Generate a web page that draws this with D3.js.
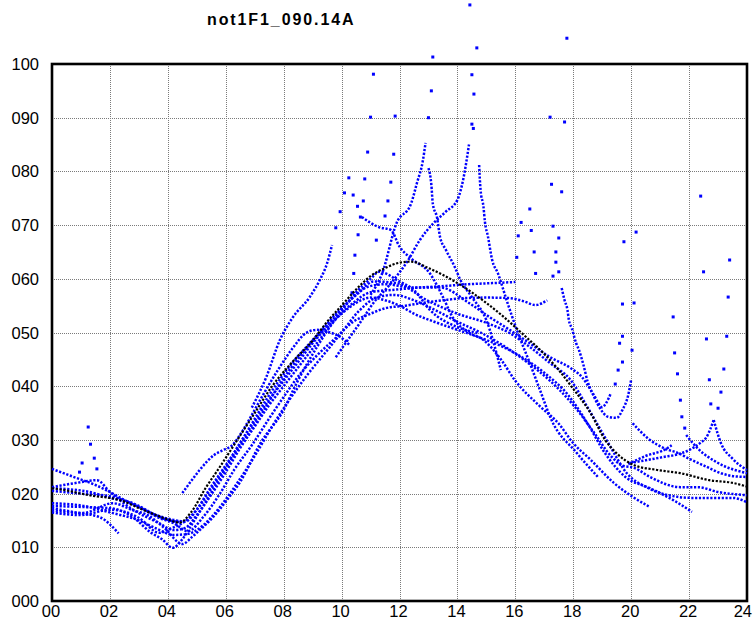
<!DOCTYPE html>
<html>
<head>
<meta charset="utf-8">
<script src="https://cdn.jsdelivr.net/npm/d3@7"></script>
<style>
  html, body { margin: 0; padding: 0; background: #ffffff; }
  svg { display: block; }
</style>
</head>
<body>
<svg id="chart" width="753" height="620"></svg>
<script>
// ---- labels ----
const chartTitle = "not1F1_090.14A";
const hourTicks = ["00","02","04","06","08","10","12","14","16","18","20","22","24"];
const valueTicks = ["000","010","020","030","040","050","060","070","080","090","100"];

// ---- mean profile (black), [hour, value] ----
const meanTrace = [[0,21],[0.5,20.6],[1,20],[1.5,19.5],[2,19.2],[2.5,18.5],[3,17.3],[3.5,16.2],[4,15.2],[4.4,14.6],[4.8,16.5],[5.3,21],[5.8,25],[6.4,30],[7,35],[7.6,40],[8.3,44.5],[9,48.5],[9.5,52],[10,55],[10.5,58],[11,60.5],[11.5,62],[12,63],[12.4,63.2],[13,62],[14,59.2],[15,55.5],[15.6,52.9],[16.3,49.5],[17,46],[17.5,43],[18,39.5],[18.6,35],[19.1,30],[19.5,27.5],[20.1,25.3],[20.9,24.4],[21.7,23.8],[22.7,22.5],[23.5,22],[24,21.3]];

// ---- daily traces (blue), [hour, value] ----
const trace01 = [[0,24.6],[0.7,23.2],[1.5,21.6],[2,20.3],[2.5,18.8],[3,17.5],[3.5,16.2],[4,15.1],[4.4,14.7]];
const trace02 = [[4.5,20.1],[4.8,22.3],[5.1,24.4],[5.6,27.2],[5.9,28.1],[6.2,28.9],[6.5,31],[6.8,33.7],[7.3,38.5],[7.8,43],[8.3,47],[8.8,50],[9.15,50.5],[9.6,50],[9.95,49.2],[10.3,47.5]];
const trace03 = [[0,21.2],[0.85,22],[1.55,22.5],[2,20.3],[2.8,17],[3.7,14.5],[4.2,13.2],[4.6,13.6],[5,16],[5.5,19.8],[6,24],[6.5,28.5],[7,32.5],[7.5,36.5],[8,40],[8.5,43.5],[9,47],[9.5,50.5],[10,54],[10.5,57.5],[11,60],[11.3,61.3],[12,59.5],[12.5,57.9],[13.05,54.2],[14,51],[14.7,49.9]];
const trace04 = [[0,17.7],[1.07,17.5],[2,17.3],[2.8,15.6],[3.4,12.8],[3.8,11.5],[4.17,9.9],[4.5,11.5],[4.8,14],[5.2,17.5],[5.7,22],[6.2,26.5],[6.7,30.5],[7.2,34.5],[7.7,39],[8.2,43],[8.7,46.5],[9.2,49.5],[9.7,52.5],[10.2,55.5],[10.7,58],[11.1,59.5],[11.9,59.2],[12.95,56],[14,53.5],[15,51.8],[15.8,49.9],[16.5,47.3],[17.2,44.3],[17.9,41.2],[18.5,36],[19.2,29.5],[19.85,23.8],[20.6,21],[21.6,19.4],[22.1,19.2],[22.8,19.2],[23.5,19.2],[24,18.4]];
const trace05 = [[0,17.3],[0.8,16.5],[1.65,15.6],[2.3,12.6]];
const trace06 = [[0,16.9],[1.07,16.4],[2.1,18.2],[2.8,16.9],[3.3,16],[3.9,13.5],[4.5,10.6],[4.83,11.9],[5.1,13.2],[5.56,15.6],[6.04,18.8],[6.5,22.2],[7.2,29.4],[8,35.6],[8.45,40.6],[9.15,47.3],[9.8,52.5],[10.4,55.5],[11,57.5],[11.9,58],[12.5,58.3],[13.4,58.6],[14.4,59],[15.2,59.2],[16,59.4]];
const trace07 = [[0,21],[0.6,20.8],[1.3,20.3],[2,19.2],[2.8,18.2],[3.6,16],[4.2,15.1],[4.6,14.8],[5,17],[5.4,20.5],[5.9,24.5],[6.4,28.5],[6.9,33],[7.4,37.5],[7.9,41.5],[8.4,45],[8.9,48],[9.4,51],[9.9,54],[10.4,56.5],[10.9,58.5],[11.5,59],[12.4,58.4],[13.4,58.4],[14.4,55.5],[15.1,52.9],[15.8,50.5],[16.5,48],[17.2,45.4],[17.9,43.4],[18.3,41.7],[18.6,39.3],[18.9,36.1],[19.2,34.3],[19.5,34.1],[19.7,35.6],[19.9,38.4],[20,41.2]];
const trace08 = [[20.05,33.1],[20.6,30.2],[21.2,28.3],[21.6,27.6],[22,26.5],[22.6,25],[23.1,23.8],[23.6,23.2],[24,23.1]];
const trace09 = [[0,20.5],[1,20],[2,19.5],[3,17.5],[3.7,15.5],[4.2,14.5],[4.7,13],[5.2,15.5],[5.8,20],[6.3,24.5],[6.9,29],[7.5,34],[8,38],[8.6,42.5],[9.2,46],[9.8,49],[10.4,52],[11,53.5],[11.5,54.5],[12.2,55],[12.8,55.5],[13.5,56],[14.2,56.4],[15,56.5],[15.8,56.4],[16.3,55.8],[16.7,55.1],[16.9,55.4],[17.1,56]];
const trace10 = [[17.6,58.3],[17.7,56],[17.8,54.2],[17.85,52.3],[17.95,50.8],[18.1,48],[18.2,46.7],[18.35,44],[18.5,40.8],[18.75,38],[19,36.1],[19.15,37],[19.3,38.7]];
const trace11 = [[19.96,25.7],[20.5,26.2],[21.1,26.8],[21.6,27.3],[22,28.1],[22.4,29.5],[22.6,30.5],[22.85,33.7]];
const trace12 = [[19.9,25.5],[20.5,27],[21.2,28.3],[21.4,29]];
const trace13 = [[21.9,30.9],[22.3,28.4],[23,25.7],[24,23.8]];
const trace14 = [[22.85,33.7],[23.1,29.4],[23.5,26.5],[24,24.4]];
const trace15 = [[0,16.5],[1,16],[2,17],[3,15.5],[3.7,12.7],[4.1,13.5],[4.5,14.5],[5,17],[5.5,21],[6,25],[6.5,29.5],[7,33.5],[7.5,37.5],[8,41],[8.5,44.5],[9,48],[9.5,51],[10,53.5],[10.5,55.5],[11,56.5],[11.5,56],[12,55],[12.5,53.5],[13.2,52],[14,50.5],[14.8,49],[15.5,47.5],[16.2,45.5],[17,42.5],[17.8,38.5],[18.5,33],[19.1,27.5],[19.8,23.1],[20.65,21],[21.45,18.8],[22.1,16.6]];
const trace16 = [[0,18.2],[1,17.8],[2,16.5],[3,15],[3.6,13.5],[4.2,12.3],[4.7,12.5],[5.2,14],[5.8,17.5],[6.4,22],[7,27],[7.6,32.5],[8.2,37.5],[8.8,42],[9.4,46],[10,50],[10.6,54],[11.2,56.5],[11.8,57],[12.5,56],[13.3,54],[14,52],[14.8,50],[15.6,47.5],[16.4,44.5],[17.2,41],[18,36.5],[18.7,31.5],[19.3,27],[19.7,25.2],[20.1,24.8],[20.65,23.1],[21.7,21.2],[22.3,21.2],[23,20.3],[24,19.7]];
const trace17 = [[6.9,36],[7.4,41.7],[7.87,48.6],[8.3,52.7],[8.9,56.6],[9.25,59.8],[9.5,62.9],[9.67,66.3]];
const trace18 = [[9.8,45.4],[10.2,48.5],[10.7,52.3],[11.1,55.5],[11.6,58.5],[12.3,63.5],[12.7,67.2],[13.2,70.5],[13.6,72.5],[14,74.7],[14.2,78.5],[14.4,85]];
const trace19 = [[14.75,81.2],[14.8,76.5],[14.9,73.4],[14.95,70.6],[15.05,68],[15.2,63.5],[15.4,61],[15.7,56],[16.05,50.5],[16.5,44.3],[16.85,39.3],[17.25,33.7],[18.1,27.7],[18.85,23.1]];
const trace20 = [[11,57],[11.4,61],[11.9,70.4],[12.4,74],[12.6,77.8],[12.8,81.8],[12.9,85.3]];
const trace21 = [[13,80.6],[13.1,77.5],[13.15,74],[13.3,71.3],[13.4,67.8],[13.6,65.4],[13.9,62.3],[14.1,59.8],[14.5,56.6],[15,52.3],[15.5,43]];
const trace22 = [[10.7,71.5],[11.3,69.6],[11.7,69.1],[12,66],[12.4,63.8],[13.05,61],[13.5,56.6],[13.85,52.7],[14.4,50],[14.9,48.6],[15.5,45],[16,41],[16.8,36.5],[17.5,33],[18,29.4],[18.6,26.3],[19.4,22],[20.05,19.4],[20.65,17.5]];

// ---- isolated readings during fast swings (blue), [hour, value] ----
const burstNight   = [[0.95,24.0],[1.04,25.7],[1.25,32.4],[1.33,29.2],[1.46,26.6],[1.55,24.6]];
const burstMorning = [[9.8,69.5],[9.95,72.5],[10.1,76],[10.25,78.8],[10.4,75.6],[10.55,73.5]];
const burstNoonA   = [[10.36,57.4],[10.42,61],[10.46,64.4],[10.57,68.2],[10.65,71.5],[10.75,74.5],[10.8,78.6],[10.9,83.6],[11.0,90.1],[11.1,98.1]];
const burstNoonB   = [[11.2,67.2],[11.5,71.7],[11.6,74.5],[11.7,78],[11.8,83.2],[11.85,90.3]];
const burstNoonC   = [[13.0,90],[13.1,95],[13.15,101.3]];
const burstAfternoon = [[14.43,111],[14.5,98],[14.57,94.4],[14.5,88.8],[14.55,88],[14.67,103]];
const burstLate    = [[16.05,64],[16.1,68],[16.2,70.5],[16.5,73],[16.55,69],[16.65,65],[16.7,61]];
const burstDusk    = [[17.2,90.1],[17.25,77.6],[17.3,69.8],[17.3,60.5],[17.4,65],[17.4,63.1],[17.5,67.6],[17.5,61.3],[17.6,76.2],[17.7,89.2],[17.78,104.8]];
const burstEveA    = [[19.45,40.4],[19.55,43],[19.6,48],[19.7,44.5],[19.7,49.3],[19.7,55.3],[19.75,66.9]];
const burstEveB    = [[20.03,46.7],[20.1,55.5],[20.17,68.7]];
const burstNightA  = [[21.45,52.9],[21.5,46.2],[21.6,42.3],[21.7,37.4],[21.75,34.3],[21.85,32.2]];
const burstNightB  = [[22.4,75.4],[22.5,61.3],[22.6,48.8],[22.7,41.2],[22.75,36.7]];
const burstNightC  = [[23,35.9],[23.1,38.9],[23.2,43.2],[23.3,49.3],[23.35,56.6],[23.4,63.5]];

const blueTraces = [trace01,trace02,trace03,trace04,trace05,trace06,trace07,trace08,trace09,trace10,
                    trace11,trace12,trace13,trace14,trace15,trace16,trace17,trace18,trace19,trace20,
                    trace21,trace22];
const bluePoints = [].concat(burstNight,burstMorning,burstNoonA,burstNoonB,burstNoonC,burstAfternoon,
                             burstLate,burstDusk,burstEveA,burstEveB,burstNightA,burstNightB,burstNightC);

// ---- drawing ----
const svg = d3.select("#chart");
const plot = { left: 52, right: 747, top: 64, bottom: 601 };

const x = d3.scaleLinear().domain([0, 24]).range([plot.left, plot.right]);
const y = d3.scaleLinear().domain([0, 100]).range([plot.bottom, plot.top]);

svg.append("rect").attr("width", 753).attr("height", 620).attr("fill", "#ffffff");

// dotted grid
const grid = svg.append("g").attr("stroke", "#7a7a7a").attr("stroke-width", 1)
  .attr("stroke-dasharray", "1,1").attr("shape-rendering", "crispEdges");
hourTicks.forEach(t => {
  const h = +t;
  if (h === 0 || h === 24) return;
  grid.append("line").attr("x1", Math.round(x(h)) + 0.5).attr("x2", Math.round(x(h)) + 0.5)
    .attr("y1", plot.top).attr("y2", plot.bottom);
});
valueTicks.forEach(t => {
  const v = +t;
  if (v === 0 || v === 100) return;
  grid.append("line").attr("y1", Math.round(y(v)) + 0.5).attr("y2", Math.round(y(v)) + 0.5)
    .attr("x1", plot.left).attr("x2", plot.right);
});

// frame
svg.append("rect")
  .attr("x", plot.left).attr("y", plot.top)
  .attr("width", plot.right - plot.left).attr("height", plot.bottom - plot.top)
  .attr("fill", "none").attr("stroke", "#000").attr("stroke-width", 2.6);

// axis labels
const labelFont = "'Liberation Sans', Arial, sans-serif";
svg.append("g").selectAll("text").data(valueTicks).join("text")
  .attr("x", 39).attr("y", d => y(+d))
  .attr("text-anchor", "end").attr("dominant-baseline", "central")
  .attr("font-family", labelFont).attr("font-size", 16.5).attr("fill", "#000")
  .text(d => d);
svg.append("g").selectAll("text").data(hourTicks).join("text")
  .attr("x", (d, i) => i === hourTicks.length - 1 ? 752 : x(+d) - 1).attr("y", 617)
  .attr("text-anchor", (d, i) => i === hourTicks.length - 1 ? "end" : "middle")
  .attr("font-family", labelFont).attr("font-size", 16.5).attr("fill", "#000")
  .text(d => d);

// title
svg.append("text")
  .attr("x", 207).attr("y", 25)
  .attr("font-family", labelFont).attr("font-weight", "bold")
  .attr("font-size", 16).attr("letter-spacing", 1.9).attr("fill", "#000")
  .text(chartTitle);

// dotted traces
const line = d3.line().x(d => x(d[0])).y(d => y(d[1])).curve(d3.curveMonotoneX);

svg.append("g").selectAll("path").data(blueTraces).join("path")
  .attr("d", line)
  .attr("fill", "none").attr("stroke", "#0000ff").attr("stroke-width", 2.5)
  .attr("stroke-dasharray", "2.2,1.6");

svg.append("g").selectAll("rect").data(bluePoints).join("rect")
  .attr("x", d => x(d[0]) - 1.5).attr("y", d => y(d[1]) - 1.5)
  .attr("width", 3).attr("height", 3).attr("fill", "#0000ff");

svg.append("path").datum(meanTrace)
  .attr("d", line)
  .attr("fill", "none").attr("stroke", "#000000").attr("stroke-width", 2.2)
  .attr("stroke-dasharray", "2.2,1.6");
</script>
</body>
</html>
